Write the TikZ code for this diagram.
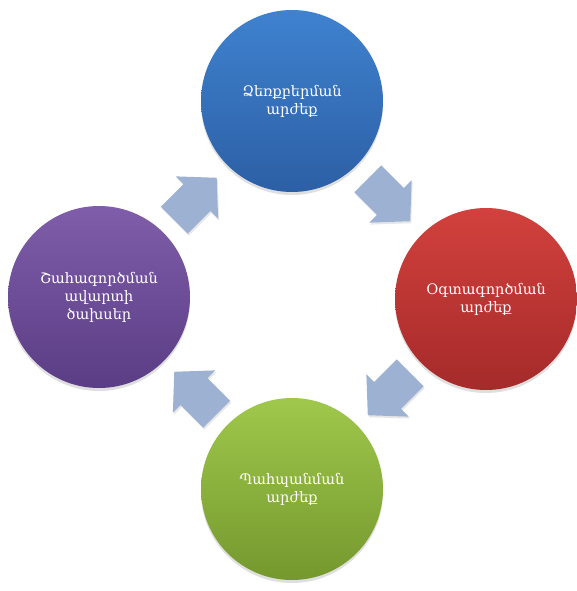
\documentclass[tikz,border=0pt]{standalone}
\usepackage{fontspec}
\setmainfont{DejaVu Serif}
\usetikzlibrary{shadows,calc}

\definecolor{blueTop}{HTML}{3F82CF}
\definecolor{blueBot}{HTML}{2C5FA5}
\definecolor{redTop}{HTML}{D2413D}
\definecolor{redBot}{HTML}{A52A2A}
\definecolor{greenTop}{HTML}{9FC84B}
\definecolor{greenBot}{HTML}{75982E}
\definecolor{violetTop}{HTML}{7F5DAA}
\definecolor{violetBot}{HTML}{5A3D84}
\definecolor{arrowFill}{HTML}{9DB1D3}

\begin{document}
\begin{tikzpicture}[x=1pt, y=1pt,
        stage/.style={circle, minimum size=182pt, inner sep=0pt, align=center,
            text=white, font=\fontsize{14.5}{18}\selectfont,
            drop shadow={opacity=0.25, shadow xshift=0pt, shadow yshift=-3pt}},
        turn/.style={fill=arrowFill,
            drop shadow={opacity=0.2, shadow xshift=1pt, shadow yshift=-2pt}}]
        \useasboundingbox (0, 0) rectangle (577, -591);
        % the four stages
        \node[stage, top color=blueTop, bottom color=blueBot] (buy) at (292, -101) {Ձեռքբերման\\արժեք};
        \node[stage, top color=redTop, bottom color=redBot] (use) at (486, -299) {Օգտագործման\\արժեք};
        \node[stage, top color=greenTop, bottom color=greenBot] (keep) at (292, -489) {Պահպանման\\արժեք};
        \node[stage, top color=violetTop, bottom color=violetBot] (close) at (99, -297) {Շահագործման\\ավարտի\\ծախսեր};
        % block arrows between them
        \foreach \from/\to/\ang in {buy/use/-45, use/keep/-135, keep/close/135, close/buy/45}
            \path[turn, shift={($(\from)!0.5!(\to)$)}, rotate=\ang]
                (-30, -19) -- (2, -19) -- (2, -30) -- (30, 0) -- (2, 30) -- (2, 19) -- (-30, 19) -- cycle;
\end{tikzpicture}
\end{document}
